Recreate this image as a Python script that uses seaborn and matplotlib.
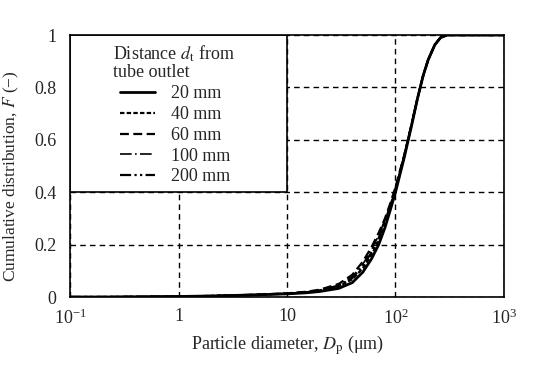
import numpy as np
import pandas as pd
import matplotlib
matplotlib.use("Agg")
import matplotlib.pyplot as plt
from matplotlib.patches import Rectangle
import seaborn as sns

# particle diameter (um) and cumulative distribution
diam = [0.1, 0.2, 0.5, 1, 2, 5, 10, 15, 20, 30, 40, 50, 60, 70, 80, 90, 100,
        120, 140, 160, 180, 200, 230, 260, 300, 400, 600, 1000]
f_20 = [0.0, 0.0, 0.001, 0.002, 0.004, 0.008, 0.012, 0.016, 0.021, 0.033, 0.055, 0.095,
        0.145, 0.20, 0.265, 0.335, 0.40, 0.53, 0.65, 0.76, 0.845, 0.905, 0.962, 0.99, 1.0, 1.0, 1.0, 1.0]
f_40 = [0.0, 0.0, 0.001, 0.002, 0.004, 0.008, 0.013, 0.018, 0.024, 0.040, 0.068, 0.11,
        0.16, 0.215, 0.28, 0.345, 0.41, 0.535, 0.655, 0.76, 0.845, 0.905, 0.962, 0.99, 1.0, 1.0, 1.0, 1.0]
f_60 = [0.0, 0.0, 0.001, 0.002, 0.004, 0.009, 0.014, 0.020, 0.028, 0.050, 0.085, 0.135,
        0.19, 0.245, 0.30, 0.36, 0.42, 0.54, 0.655, 0.76, 0.845, 0.905, 0.962, 0.99, 1.0, 1.0, 1.0, 1.0]
f_100 = [0.0, 0.0, 0.001, 0.002, 0.004, 0.008, 0.013, 0.019, 0.026, 0.045, 0.078, 0.125,
         0.18, 0.235, 0.295, 0.355, 0.415, 0.54, 0.655, 0.76, 0.845, 0.905, 0.962, 0.99, 1.0, 1.0, 1.0, 1.0]
f_200 = [0.0, 0.0, 0.001, 0.002, 0.004, 0.008, 0.013, 0.018, 0.025, 0.042, 0.072, 0.118,
         0.17, 0.225, 0.29, 0.35, 0.41, 0.535, 0.655, 0.76, 0.845, 0.905, 0.962, 0.99, 1.0, 1.0, 1.0, 1.0]

labels = ["20 mm", "40 mm", "60 mm", "100 mm", "200 mm"]
series = [f_20, f_40, f_60, f_100, f_200]
styles = ["-", (0, (2, 1)), (0, (4, 2)), (0, (7, 2, 1, 2)), (0, (5, 1.5, 1, 1.5, 1, 1.5))]
widths = [2.0, 1.6, 1.6, 1.2, 1.6]

sns.set_style("white")
plt.rcParams["font.family"] = ["Liberation Serif", "DejaVu Serif"]
plt.rcParams["mathtext.fontset"] = "stix"

fig = plt.figure(figsize=(5.54, 3.67), dpi=100)
ax = fig.add_axes([0.1264, 0.1907, 0.7833, 0.7139])

for lab, vals, ls, lw in zip(labels, series, styles, widths):
    df = pd.DataFrame({"d": diam, "F": vals})
    sns.lineplot(data=df, x="d", y="F", ax=ax, color="black", linestyle=ls,
                 linewidth=lw, label=lab, zorder=3)

ax.set_xscale("log")
ax.set_xlim(0.1, 1000)
ax.set_ylim(0, 1)
ax.set_xticks([0.1, 1, 10, 100, 1000])
ax.set_xticklabels(["$\\mathregular{10^{-1}}$", "1", "10", "$\\mathregular{10^2}$", "$\\mathregular{10^3}$"])
ax.set_yticks([0, 0.2, 0.4, 0.6, 0.8, 1])
ax.set_yticklabels(["0", "0.2", "0.4", "0.6", "0.8", "1"])
ax.minorticks_off()
ax.tick_params(axis="y", direction="in", length=5, width=1, color="black", labelsize=13, pad=10)
ax.tick_params(axis="x", length=0, labelsize=13, pad=8)
ax.grid(True, color="black", linestyle=(0, (4, 3)), linewidth=1)
for s in ax.spines.values():
    s.set_color("black")
    s.set_linewidth(1.2)

# opaque legend box in the upper left corner
ax.add_patch(Rectangle((0, 0.4), 0.5, 0.6, transform=ax.transAxes, facecolor="white",
                       edgecolor="black", linewidth=1.2, zorder=2.5))

ax.text(0.099, 0.968, "Distance $d_{\\rm t}$ from\ntube outlet", transform=ax.transAxes,
        ha="left", va="top", fontsize=13, linespacing=1.0, zorder=4)

leg = ax.legend(loc="upper left", bbox_to_anchor=(0.115, 0.808), frameon=False,
                fontsize=13, handlelength=1.95, labelspacing=0.21,
                handletextpad=0.9, borderpad=0.0, borderaxespad=0.0)
leg.set_zorder(4)

ax.set_xlabel("Particle diameter, $D_{\\rm p}$ (μm)", fontsize=13, labelpad=4)
ax.set_ylabel("Cumulative distribution, $F$ (−)", fontsize=12.5)
ax.yaxis.set_label_coords(-0.113, 0.46)

fig.savefig("out.png", dpi=100)
